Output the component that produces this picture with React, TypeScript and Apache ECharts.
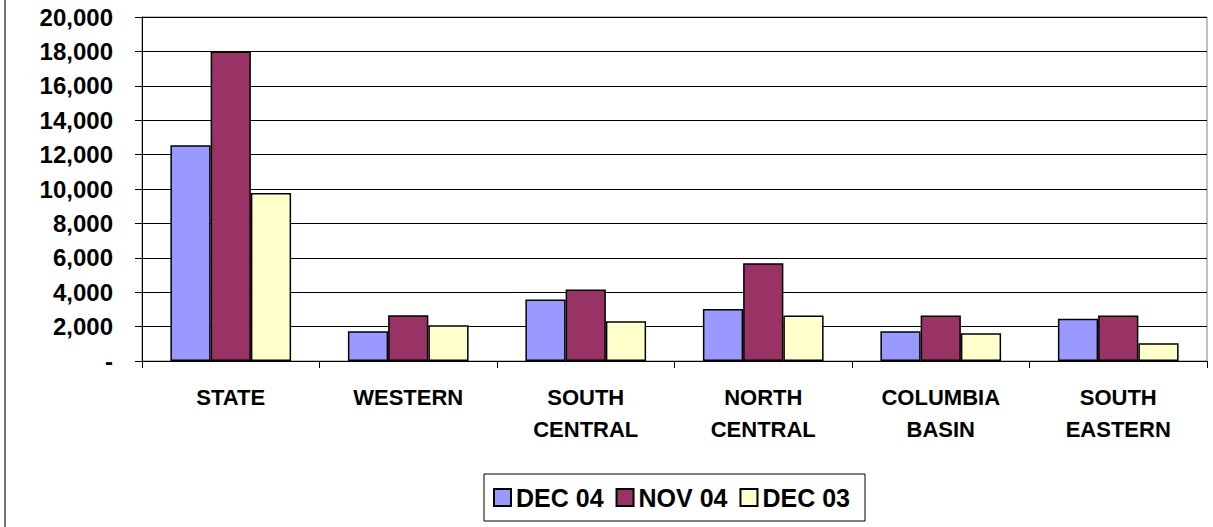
import React, { useEffect, useRef } from "react";
import * as echarts from "echarts";

const categories = ["STATE", "WESTERN", "SOUTH\nCENTRAL", "NORTH\nCENTRAL", "COLUMBIA\nBASIN", "SOUTH\nEASTERN"];
const seriesNames = ["DEC 04", "NOV 04", "DEC 03"];
const dec04 = [12550, 1730, 3570, 3030, 1730, 2450];
const nov04 = [18000, 2660, 4160, 5690, 2640, 2640];
const dec03 = [9770, 2080, 2310, 2640, 1610, 1030];
const colors = ["#9999FF", "#993366", "#FFFFCC"];

const FONT = "'Liberation Sans', Arial, sans-serif";

export default function App() {
  const ref = useRef<HTMLDivElement>(null);
  useEffect(() => {
    if (!ref.current) return;
    const chart = echarts.init(ref.current, null, { renderer: "svg" });
    const data = [dec04, nov04, dec03];
    chart.setOption({
      animation: false,
      backgroundColor: "#ffffff",
      textStyle: { fontFamily: FONT },
      grid: {
        left: 142,
        top: 17,
        right: 6,
        bottom: 166,
        show: true,
        borderColor: "#808080",
        borderWidth: 1,
      },
      legend: {
        left: 484,
        top: 474,
        padding: [11, 15, 11, 9],
        itemGap: 12,
        itemWidth: 17,
        itemHeight: 17,
        borderColor: "#000",
        borderWidth: 1,
        icon: "rect",
        textStyle: { fontFamily: FONT, fontWeight: "bold", fontSize: 25, color: "#000" },
        data: seriesNames,
      },
      xAxis: {
        type: "category",
        data: categories,
        axisLine: { lineStyle: { color: "#000", width: 1 } },
        axisTick: { show: true, length: 7, lineStyle: { color: "#000" } },
        axisLabel: {
          fontFamily: FONT,
          fontWeight: "bold",
          fontSize: 22,
          color: "#000",
          margin: 20,
          lineHeight: 32,
          interval: 0,
        },
        splitLine: { show: false },
      },
      yAxis: {
        type: "value",
        min: 0,
        max: 20000,
        interval: 2000,
        axisLine: { show: true, lineStyle: { color: "#000", width: 1 } },
        axisTick: { show: true, length: 7, lineStyle: { color: "#000" } },
        axisLabel: {
          fontFamily: FONT,
          fontWeight: "bold",
          fontSize: 24,
          color: "#000",
          margin: 29,
          formatter: (v: number) => (v === 0 ? "-" : v.toLocaleString("en-US")),
        },
        splitLine: { show: true, lineStyle: { color: "#000", width: 1 } },
      },
      graphic: [
        {
          type: "line",
          shape: { x1: 5, y1: 0, x2: 5, y2: 527 },
          style: { stroke: "#444", lineWidth: 1.5 },
        },
      ],
      series: seriesNames.map((name, i) => ({
        name,
        type: "bar",
        data: data[i],
        barGap: "0%",
        barCategoryGap: "32%",
        itemStyle: { color: colors[i], borderColor: "#000", borderWidth: 1.5 },
      })),
    });
    return () => chart.dispose();
  }, []);
  return (
    <div
      ref={ref}
      style={{ position: "fixed", left: 0, top: 0, width: 1213, height: 527, background: "#fff" }}
    />
  );
}
